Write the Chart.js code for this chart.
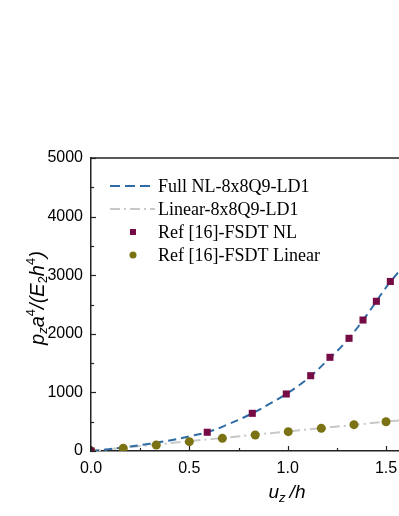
<!DOCTYPE html>
<html>
<head>
<meta charset="utf-8">
<script src="https://cdn.jsdelivr.net/npm/chart.js@4"></script>
<style>
  html, body { margin: 0; padding: 0; background: #fff; }
  #wrap { width: 399px; height: 516px; }
</style>
</head>
<body>
<div id="wrap"><canvas id="c" width="399" height="516"></canvas></div>
<script>
// values
const fullNlX = [0, 0.1, 0.2, 0.3, 0.4, 0.5, 0.6, 0.7, 0.8, 0.9, 1.0, 1.1, 1.2, 1.3, 1.4, 1.5, 1.566];
const fullNlY = [0, 35, 75, 125, 180, 250, 330, 460, 610, 790, 990, 1230, 1540, 1880, 2310, 2790, 3065];
const linearX = [0, 0.5, 1.0, 1.566];
const linearY = [0, 167, 333, 522];
const refNlX = [0, 0.591, 0.820, 0.993, 1.117, 1.215, 1.312, 1.383, 1.451, 1.522];
const refNlY = [0, 320, 643, 973, 1285, 1599, 1923, 2235, 2555, 2893];
const refLinX = [0, 0.164, 0.332, 0.500, 0.668, 0.835, 1.003, 1.171, 1.337, 1.500];
const refLinY = [0, 46, 102, 159, 216, 273, 330, 387, 449, 500];

const legendNames = ['Full NL-8x8Q9-LD1', 'Linear-8x8Q9-LD1', 'Ref [16]-FSDT NL', 'Ref [16]-FSDT Linear'];

const blue = '#2f6ca6';
const grey = '#c8c8c8';
const maroon = '#760c46';
const olive = '#7b7214';

const pts = (xs, ys) => xs.map((x, i) => ({ x: x, y: ys[i] }));

// draw text pieces (normal / sub / sup) one after another
function drawPieces(ctx, pieces, cx, cy, rot) {
    ctx.save();
    ctx.translate(cx, cy);
    if (rot) ctx.rotate(rot);
    let total = 0;
    pieces.forEach(p => { ctx.font = p.font; total += ctx.measureText(p.t).width + (p.gap || 0); });
    let x = -total / 2;
    ctx.fillStyle = '#000';
    ctx.textBaseline = 'alphabetic';
    pieces.forEach(p => {
        ctx.font = p.font;
        ctx.fillText(p.t, x, p.dy || 0);
        x += ctx.measureText(p.t).width + (p.gap || 0);
    });
    ctx.restore();
}

const extras = {
    id: 'extras',
    afterDraw(chart) {
        const ctx = chart.ctx;
        const a = chart.chartArea;
        const xs = chart.scales.x, ys = chart.scales.y;
        ctx.save();
        ctx.strokeStyle = '#222';
        ctx.lineWidth = 1.5;
        // top frame line
        ctx.beginPath();
        ctx.moveTo(a.left, a.top);
        ctx.lineTo(chart.width, a.top);
        ctx.stroke();
        // inward ticks
        ctx.lineWidth = 1.2;
        for (let v = 0; v <= 5000; v += 500) {
            const y = Math.round(ys.getPixelForValue(v)) + 0.5;
            const len = v % 1000 === 0 ? 5 : 3;
            ctx.beginPath();
            ctx.moveTo(a.left, y);
            ctx.lineTo(a.left + len, y);
            ctx.stroke();
        }
        for (let v = 0; v <= 1.5; v += 0.25) {
            const x = Math.round(xs.getPixelForValue(v)) + 0.5;
            const len = Math.abs(v * 2 - Math.round(v * 2)) < 1e-6 ? 5 : 3;
            ctx.beginPath();
            ctx.moveTo(x, a.bottom);
            ctx.lineTo(x, a.bottom - len);
            ctx.stroke();
        }
        ctx.restore();

        // legend
        ctx.save();
        const rows = [186, 209, 232, 255];
        ctx.font = '18px "Liberation Serif", "Times New Roman", serif';
        ctx.textBaseline = 'middle';
        ctx.fillStyle = '#000';
        legendNames.forEach((name, i) => {
            const y = rows[i];
            if (i === 0) {
                ctx.strokeStyle = blue; ctx.lineWidth = 2; ctx.setLineDash([10, 5]);
                ctx.beginPath(); ctx.moveTo(110, y); ctx.lineTo(155, y); ctx.stroke();
            } else if (i === 1) {
                ctx.strokeStyle = grey; ctx.lineWidth = 2; ctx.setLineDash([10, 4, 2, 4]);
                ctx.beginPath(); ctx.moveTo(110, y); ctx.lineTo(155, y); ctx.stroke();
            } else if (i === 2) {
                ctx.fillStyle = maroon; ctx.fillRect(130, y - 3, 6, 6);
            } else {
                ctx.fillStyle = olive; ctx.beginPath(); ctx.arc(133, y, 3.5, 0, Math.PI * 2); ctx.fill();
            }
            ctx.setLineDash([]);
            ctx.fillStyle = '#000';
            ctx.fillText(name, 158, y + 1);
        });
        ctx.restore();

        // axis titles
        const big = 'italic 20px "Liberation Sans", Arial, sans-serif';
        const small = 'italic 13px "Liberation Sans", Arial, sans-serif';
        const smallN = '13px "Liberation Sans", Arial, sans-serif';
        drawPieces(ctx, [
            { t: 'p', font: big },
            { t: 'z', font: small, dy: 3 },
            { t: 'a', font: big },
            { t: '4', font: smallN, dy: -9 },
            { t: '/(', font: big },
            { t: 'E', font: big },
            { t: '2', font: smallN, dy: 3 },
            { t: 'h', font: big },
            { t: '4', font: smallN, dy: -9 },
            { t: ')', font: big }
        ], 44, 298, -Math.PI / 2);
        const bigX = 'italic 19px "Liberation Sans", Arial, sans-serif';
        drawPieces(ctx, [
            { t: 'u', font: bigX },
            { t: 'z', font: small, dy: 4, gap: 4 },
            { t: '/h', font: bigX }
        ], 287, 498, 0);
    }
};

new Chart(document.getElementById('c'), {
    type: 'scatter',
    data: {
        datasets: [
            {
                label: legendNames[0],
                data: pts(fullNlX, fullNlY),
                showLine: true,
                borderColor: blue,
                borderWidth: 2,
                borderDash: [8, 5],
                pointRadius: 0,
                tension: 0.4,
                order: 2
            },
            {
                label: legendNames[1],
                data: pts(linearX, linearY),
                showLine: true,
                borderColor: grey,
                borderWidth: 2,
                borderDash: [10, 4, 2, 4],
                pointRadius: 0,
                order: 3
            },
            {
                label: legendNames[2],
                data: pts(refNlX, refNlY),
                pointStyle: 'rect',
                pointRadius: 5,
                backgroundColor: maroon,
                borderColor: maroon,
                borderWidth: 0,
                order: 1
            },
            {
                label: legendNames[3],
                data: pts(refLinX, refLinY),
                pointStyle: 'circle',
                pointRadius: 4.5,
                backgroundColor: olive,
                borderColor: olive,
                borderWidth: 0,
                order: 1
            }
        ]
    },
    options: {
        responsive: false,
        animation: false,
        layout: { autoPadding: false, padding: { top: 158, right: 0, left: 0, bottom: 0 } },
        plugins: { legend: { display: false }, tooltip: { enabled: false } },
        scales: {
            x: {
                type: 'linear',
                min: 0,
                max: 1.566,
                afterFit: s => { s.height = 65; s.paddingRight = 0; s.paddingLeft = 0; },
                grid: { display: false, drawTicks: false },
                border: { display: true, color: '#222', width: 1.5 },
                ticks: {
                    stepSize: 0.5,
                    includeBounds: false,
                    padding: 8,
                    color: '#000',
                    font: { family: '"Liberation Sans", Arial, sans-serif', size: 16 },
                    callback: v => Number(v).toFixed(1)
                }
            },
            y: {
                type: 'linear',
                min: 0,
                max: 5000,
                afterFit: s => { s.width = 91; s.paddingTop = 0; s.paddingBottom = 0; },
                grid: { display: false, drawTicks: false },
                border: { display: true, color: '#222', width: 1.5 },
                ticks: {
                    stepSize: 1000,
                    padding: 8,
                    color: '#000',
                    font: { family: '"Liberation Sans", Arial, sans-serif', size: 16 },
                    callback: v => String(v)
                }
            }
        }
    },
    plugins: [extras]
});
</script>
</body>
</html>
